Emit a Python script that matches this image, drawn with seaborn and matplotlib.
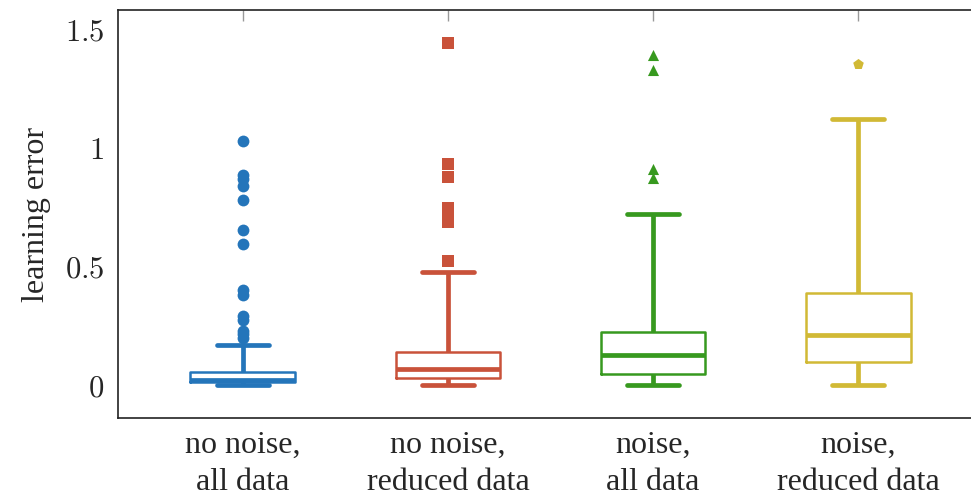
import numpy as np
import pandas as pd
import matplotlib
matplotlib.use("Agg")
import matplotlib.pyplot as plt
import seaborn as sns

# groups and colours
groups = ["no noise,\nall data", "no noise,\nreduced data", "noise,\nall data", "noise,\nreduced data"]
colors = ["#2475ba", "#c9523a", "#37991f", "#d1b935"]
markers = ["o", "s", "^", "p"]

# box statistics: lower whisker, q1, median, q3, upper whisker
lower_whisker = [0.0, 0.0, 0.0, 0.0]
q1 = [0.012, 0.031, 0.046, 0.097]
median = [0.02, 0.066, 0.127, 0.211]
q3 = [0.055, 0.138, 0.225, 0.387]
upper_whisker = [0.169, 0.477, 0.72, 1.122]

# outliers
outliers_1 = [1.03, 0.885, 0.87, 0.84, 0.78, 0.655, 0.595, 0.40, 0.38, 0.29, 0.275, 0.23, 0.215, 0.20]
outliers_2 = [1.442, 0.932, 0.876, 0.746, 0.717, 0.689, 0.524]
outliers_3 = [1.392, 1.329, 0.91, 0.872]
outliers_4 = [1.353]
outliers = [outliers_1, outliers_2, outliers_3, outliers_4]

yticks = [0, 0.5, 1, 1.5]

sns.set_theme(style="white")
plt.rcParams["font.family"] = ["Liberation Serif", "DejaVu Serif"]
plt.rcParams["mathtext.fontset"] = "cm"

# five points per group reproduce the quartiles exactly; whis=(0, 100) puts whiskers at min/max
rows = []
for g, a, b, c, d, e in zip(groups, lower_whisker, q1, median, q3, upper_whisker):
    for v in (a, b, c, d, e):
        rows.append({"group": g, "error": v})
df = pd.DataFrame(rows)

fig = plt.figure(figsize=(9.71, 5.03), dpi=100)
ax = fig.add_axes([118 / 971, (503 - 418) / 503, (983 - 118) / 971, (418 - 10) / 503])

sns.boxplot(data=df, x="group", y="error", hue="group", order=groups, hue_order=groups,
            palette=colors, saturation=1, fill=False, whis=(0, 100), showfliers=False,
            width=0.51, legend=False, ax=ax,
            boxprops=dict(linewidth=1.8),
            medianprops=dict(linewidth=3.4),
            whiskerprops=dict(linewidth=3.4),
            capprops=dict(linewidth=3.4))

for g, vals, c, m in zip(groups, outliers, colors, markers):
    size = 8.5 if m in ("o", "s") else 8
    sns.stripplot(x=[g] * len(vals), y=vals, order=groups, color=c, marker=m,
                  jitter=False, size=size, linewidth=0, ax=ax)

ax.set_xlim(-0.608, 3.608)
ax.set_ylim(-0.139, 1.582)
ax.set_yticks(yticks)
ax.set_yticklabels([f"${v:g}$" for v in yticks])
ax.set_xlabel("")
ax.set_ylabel("learning error", fontsize=23, labelpad=10)

ax.tick_params(axis="both", direction="in", length=8, width=1, color="#999999",
               top=True, right=True, labelsize=22)
ax.tick_params(axis="x", pad=9, labelsize=23)
ax.tick_params(axis="y", pad=10)
for lab in ax.get_xticklabels():
    lab.set_linespacing(1.4)
for sp in ax.spines.values():
    sp.set_color("#222222")
    sp.set_linewidth(1.2)

fig.savefig("out.png", dpi=100)
